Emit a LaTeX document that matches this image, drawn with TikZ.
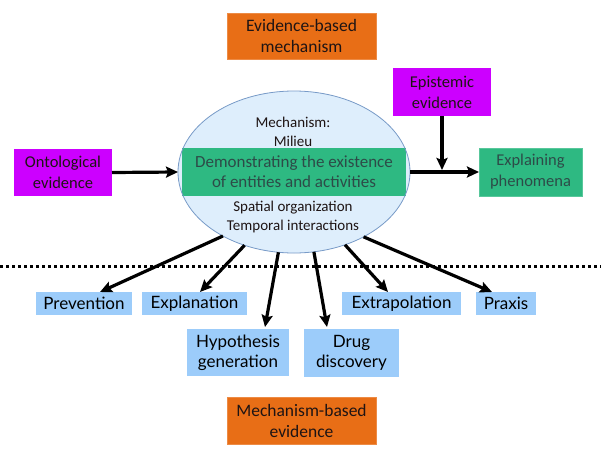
\documentclass[tikz,border=0pt]{standalone}
\usepackage{fontspec}
\setmainfont{Carlito}
\newfontfamily\comicf{Lato}
\usetikzlibrary{shapes.geometric,arrows.meta}
\definecolor{orangebox}{RGB}{232,110,22}
\definecolor{magbox}{RGB}{204,0,255}
\definecolor{greenbox}{RGB}{46,185,130}
\definecolor{greentext}{RGB}{45,75,72}
\definecolor{bluebox}{RGB}{156,204,250}
\definecolor{ellfill}{RGB}{222,238,252}
\definecolor{elldraw}{RGB}{120,155,200}
\definecolor{darktext}{RGB}{30,20,20}
\tikzset{
  box/.style={inner sep=0pt, outer sep=0pt, align=center, font=\fontsize{16.5}{21}\selectfont},
  orangenode/.style={box, fill=orangebox, draw=orangebox!80!white, line width=0.6pt, text=darktext, font=\fontsize{17.5}{21}\selectfont},
  magnode/.style={box, fill=magbox, text=darktext},
  greennode/.style={box, fill=greenbox, draw=greenbox!80!white, line width=0.6pt, text=greentext},
  bluenode/.style={box, fill=bluebox, text=black, font=\comicf\fontsize{17}{20}\selectfont},
  arr/.style={line width=3.2pt, -{Stealth[length=12pt,width=11pt,inset=2pt]}},
}
\begin{document}
\begin{tikzpicture}[x=1pt,y=-1pt]
\useasboundingbox (0,0) rectangle (601,455);
\fill[white] (0,0) rectangle (601,455);

% top / bottom orange boxes
\node[orangenode, minimum width=149pt, minimum height=46pt] (ebm) at (301.5,36) {Evidence-based\\mechanism};
\node[orangenode, minimum width=149pt, minimum height=47pt] (mbe) at (301.5,420.5) {Mechanism-based\\evidence};

% ellipse
\node[ellipse, fill=ellfill, inner sep=0pt, outer sep=0pt, minimum width=232pt, minimum height=162pt] (ell) at (294,172) {};
\node[greennode, draw=none, minimum width=224pt, minimum height=48pt, font=\fontsize{17}{20}\selectfont] (band) at (294,172) {Demonstrating the existence\\of entities and activities};
\node[ellipse, draw=elldraw, line width=0.8pt, inner sep=0pt, outer sep=0pt, minimum width=232pt, minimum height=162pt] (ello) at (294,172) {};
\node[box, font=\fontsize{15}{19}\selectfont, text=darktext] (mech) at (293,131.5) {Mechanism:\\Milieu};
\node[box, font=\fontsize{15}{19}\selectfont, text=darktext] (spat) at (293,216.5) {Spatial organization\\Temporal interactions};

% side boxes
\node[magnode, minimum width=98pt, minimum height=47pt] (ont) at (63,172.5) {Ontological\\evidence};
\node[magnode, minimum width=98pt, minimum height=48pt] (epi) at (442,92) {Epistemic\\evidence};
\node[greennode, minimum width=103pt, minimum height=48pt] (expl) at (530.5,172) {Explaining\\phenomena};

\draw[arr] (ont.east) -- (ello.west);
\draw[arr] (ello.east) -- (expl.west);
\coordinate (join) at (442,170);
\draw[arr] (epi.south) -- (join);

% dotted separator
\coordinate (dl) at (0,266);
\coordinate (dr) at (601,266);
\draw[line width=3pt, dash pattern=on 3pt off 3pt] (dl) -- (dr);

% bottom boxes
\node[bluenode, minimum width=96pt, minimum height=23pt] (prev) at (84,303.5) {Prevention};
\node[bluenode, minimum width=105pt, minimum height=23pt] (expn) at (194.5,303.5) {Explanation};
\node[bluenode, minimum width=119pt, minimum height=23pt] (extr) at (401.5,303.5) {Extrapolation};
\node[bluenode, minimum width=60pt, minimum height=23pt] (prax) at (506,303.5) {Praxis};
\node[bluenode, minimum width=102pt, minimum height=47pt] (hyp) at (238,352.5) {Hypothesis\\generation};
\node[bluenode, minimum width=95pt, minimum height=48pt] (drug) at (351.5,353) {Drug\\discovery};

\draw[arr] (ello.222) -- ([xshift=16pt]prev.north);
\draw[arr] (ello.236) -- ([xshift=5.5pt]expn.north);
\draw[arr] (ello.259) -- ([xshift=27pt,yshift=2pt]hyp.north);
\draw[arr] (ello.284) -- ([xshift=-24.5pt,yshift=2pt]drug.north);
\draw[arr] (ello.305) -- ([xshift=-13.5pt]extr.north);
\draw[arr] (ello.317.5) -- ([xshift=-14pt]prax.north);
\end{tikzpicture}
\end{document}
